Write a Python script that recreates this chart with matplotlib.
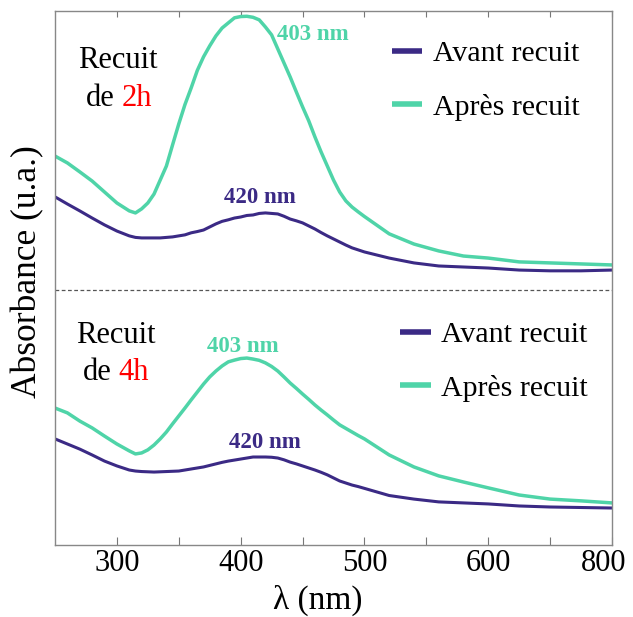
import numpy as np
import matplotlib.pyplot as plt
from matplotlib.transforms import ScaledTranslation

plt.rcParams['font.family'] = ['Liberation Serif', 'DejaVu Serif']

# Wavelengths (nm)
wavelength = [250, 260, 270, 280, 290, 300, 310,
              315, 320, 325, 330, 335, 340, 345, 350, 355, 360,
              365, 370, 375, 380, 385, 390, 395, 400, 405, 410,
              415, 420, 425, 430, 435, 440, 445, 450, 455, 460,
              465, 470, 475, 480, 485, 490, 495, 500,
              520, 540, 560, 580, 600, 625, 650, 675, 700]

# Annealing 2h (top panel, drawn with an offset)
avant_2h = [0.365, 0.337, 0.310, 0.282, 0.255, 0.231, 0.212,
            0.206, 0.204, 0.204, 0.204, 0.204, 0.206, 0.208, 0.212, 0.216, 0.224,
            0.229, 0.235, 0.247, 0.259, 0.269, 0.275, 0.282, 0.286, 0.292, 0.294,
            0.300, 0.302, 0.300, 0.298, 0.289, 0.278, 0.271, 0.263, 0.251, 0.239,
            0.225, 0.212, 0.200, 0.188, 0.176, 0.165, 0.157, 0.149,
            0.125, 0.106, 0.094, 0.090, 0.086, 0.078, 0.075, 0.075, 0.078]
apres_2h = [0.525, 0.498, 0.463, 0.427, 0.384, 0.341, 0.310,
            0.302, 0.318, 0.341, 0.376, 0.431, 0.486, 0.569, 0.651, 0.727, 0.792,
            0.861, 0.914, 0.957, 0.996, 1.027, 1.047, 1.067, 1.072, 1.073, 1.069,
            1.059, 1.031, 1.000, 0.945, 0.890, 0.835, 0.776, 0.718, 0.663, 0.600,
            0.541, 0.486, 0.431, 0.384, 0.349, 0.325, 0.306, 0.288,
            0.220, 0.180, 0.153, 0.133, 0.125, 0.110, 0.106, 0.102, 0.098]

# Annealing 4h (bottom panel)
avant_4h = [0.416, 0.396, 0.376, 0.353, 0.329, 0.310, 0.294,
            0.290, 0.288, 0.287, 0.286, 0.287, 0.288, 0.289, 0.290, 0.294, 0.298,
            0.302, 0.306, 0.312, 0.318, 0.324, 0.329, 0.333, 0.337, 0.341, 0.345,
            0.345, 0.345, 0.344, 0.341, 0.334, 0.325, 0.318, 0.310, 0.302, 0.294,
            0.285, 0.275, 0.263, 0.251, 0.243, 0.235, 0.229, 0.222,
            0.194, 0.180, 0.169, 0.165, 0.161, 0.153, 0.149, 0.147, 0.145]
apres_4h = [0.537, 0.518, 0.486, 0.459, 0.427, 0.396, 0.369,
            0.357, 0.361, 0.373, 0.392, 0.416, 0.443, 0.475, 0.506, 0.537, 0.569,
            0.600, 0.631, 0.659, 0.682, 0.702, 0.718, 0.725, 0.731, 0.733, 0.729,
            0.724, 0.714, 0.700, 0.682, 0.659, 0.635, 0.614, 0.592, 0.571, 0.549,
            0.529, 0.510, 0.490, 0.471, 0.457, 0.443, 0.429, 0.416,
            0.353, 0.306, 0.271, 0.247, 0.224, 0.196, 0.180, 0.173, 0.165]

offset_top = 1.0
tick_pos = [300, 350, 400, 450, 500, 550, 600, 650, 700]
tick_labels = ['300', '', '400', '', '500', '', '600', '', '800']

purple = '#3b2a85'
teal = '#4fd4a8'

fig = plt.figure(figsize=(6.33, 6.17), dpi=100)
ax = fig.add_axes([0.0869, 0.1167, 0.8799, 0.8660])

wl = np.array(wavelength)
line_kw = dict(solid_joinstyle='round', solid_capstyle='round')
l1, = ax.plot(wl, np.array(avant_2h) + offset_top, color=purple, lw=2.2, label='Avant recuit', **line_kw)
l2, = ax.plot(wl, np.array(apres_2h) + offset_top, color=teal, lw=2.5, label='Après recuit', **line_kw)
l3, = ax.plot(wl, avant_4h, color=purple, lw=2.2, label='Avant recuit', **line_kw)
l4, = ax.plot(wl, apres_4h, color=teal, lw=2.5, label='Après recuit', **line_kw)

ax.axhline(offset_top, color='#555555', lw=0.9, linestyle=(0, (3, 2)))

ax.set_xlim(250, 700)
ax.set_ylim(0, 2.095)
ax.set_yticks([])
ax.set_xticks(tick_pos)
ax.set_xticklabels(tick_labels, fontsize=22)
ax.tick_params(axis='x', direction='in', length=6, width=0.8, color='#777777',
               top=True, pad=3)
for t in ax.xaxis.get_major_ticks():
    t.tick2line.set_markersize(4)
last = ax.get_xticklabels()[-1]
last.set_transform(last.get_transform() + ScaledTranslation(-6 / 72, 0, fig.dpi_scale_trans))
for s in ax.spines.values():
    s.set_color('#888888')
    s.set_linewidth(1.0)

ax.set_xlabel('λ (nm)', fontsize=24)
ax.xaxis.set_label_coords(0.472, -0.074)
ax.set_ylabel('Absorbance (u.a.)', fontsize=25.5)
ax.yaxis.set_label_coords(-0.02, 0.511)

# Legends
leg_kw = dict(frameon=False, fontsize=21.5, handlelength=1.02, handletextpad=0.35,
              labelspacing=0.9, borderpad=0, borderaxespad=0, loc='upper left')
leg1 = ax.legend(handles=[l1, l2], bbox_to_anchor=(0.605, 0.945), **leg_kw)
ax.add_artist(leg1)
leg2 = ax.legend(handles=[l3, l4], bbox_to_anchor=(0.620, 0.419), **leg_kw)
for leg in (leg1, leg2):
    for ln in leg.get_lines():
        ln.set_linewidth(4)
        ln.set_solid_capstyle('butt')

# Panel titles
ax.text(300.9, 1.871, 'Recuit', fontsize=22, ha='center', va='baseline')
ax.text(275, 1.722, 'de', fontsize=22, ha='left', va='baseline')
ax.text(304.1, 1.722, '2h', fontsize=22, ha='left', va='baseline', color='red')
ax.text(299.3, 0.792, 'Recuit', fontsize=22, ha='center', va='baseline')
ax.text(272.6, 0.647, 'de', fontsize=22, ha='left', va='baseline')
ax.text(300.9, 0.647, '4h', fontsize=22, ha='left', va='baseline', color='red')

# Peak annotations
ax.text(458, 1.980, '403 nm', fontsize=16.5, fontweight='bold', color=teal, ha='center', va='baseline')
ax.text(415.6, 1.341, '420 nm', fontsize=16.5, fontweight='bold', color=purple, ha='center', va='baseline')
ax.text(401.5, 0.757, '403 nm', fontsize=16.5, fontweight='bold', color=teal, ha='center', va='baseline')
ax.text(419.3, 0.380, '420 nm', fontsize=16.5, fontweight='bold', color=purple, ha='center', va='baseline')

fig.savefig('out.png', dpi=100)
